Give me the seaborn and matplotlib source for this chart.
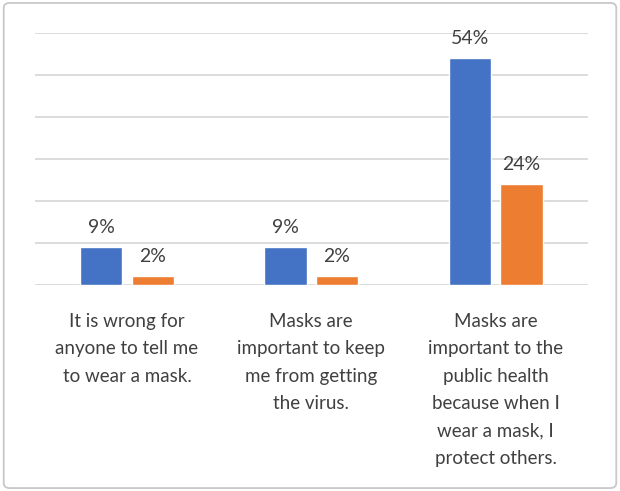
import matplotlib
matplotlib.use('Agg')
import matplotlib.pyplot as plt
import seaborn as sns
import pandas as pd
from matplotlib.patches import FancyBboxPatch

# ── data ──────────────────────────────────────────────────────────────────────
categories = [
    "It is wrong for\nanyone to tell me\nto wear a mask.",
    "Masks are\nimportant to keep\nme from getting\nthe virus.",
    "Masks are\nimportant to the\npublic health\nbecause when I\nwear a mask, I\nprotect others.",
]
series = ["Series 1", "Series 2"]
values_s1 = [9, 9, 54]
values_s2 = [2, 2, 24]
colors = ["#4472C4", "#ED7D31"]

df = pd.DataFrame({
    "category": categories * 2,
    "series": [series[0]] * 3 + [series[1]] * 3,
    "value": values_s1 + values_s2,
})

# ── plot ──────────────────────────────────────────────────────────────────────
sns.set_style("white")
plt.rcParams['font.family'] = ['Lato', 'DejaVu Sans']

fig = plt.figure(figsize=(6.2, 4.91), dpi=100)
ax = fig.add_axes([0.056, 0.42, 0.892, 0.513])

sns.barplot(data=df, x="category", y="value", hue="series", palette=colors,
            width=0.56, gap=0.18, legend=False, ax=ax, saturation=1)

ax.set_ylim(0, 60)
ax.set_yticks(range(0, 61, 10))
ax.yaxis.grid(True, color="#d9d9d9", linewidth=1.3)
ax.set_axisbelow(True)
for s in ax.spines.values():
    s.set_visible(False)
ax.tick_params(axis='y', length=0, labelleft=False)
ax.tick_params(axis='x', length=0, pad=20, labelsize=13.5, colors="#404040")
for lab in ax.get_xticklabels():
    lab.set_linespacing(1.75)
ax.set_xlabel("")
ax.set_ylabel("")

for cont in ax.containers:
    ax.bar_label(cont, labels=[f"{v:.0f}%" for v in cont.datavalues],
                 padding=8, fontsize=14, color="#404040")

fig.patches.append(FancyBboxPatch((0.006, 0.006), 0.988, 0.988,
                                  boxstyle="round,pad=0,rounding_size=0.01",
                                  transform=fig.transFigure, fill=False,
                                  edgecolor="#c8c8c8", linewidth=1.3))

fig.savefig("out.png", dpi=100, facecolor="white")
